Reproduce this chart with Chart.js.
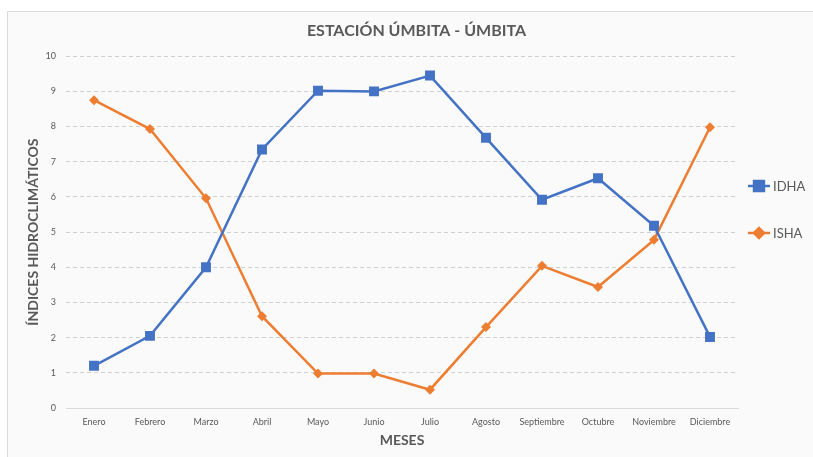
<!DOCTYPE html>
<html>
<head>
<meta charset="utf-8">
<script src="https://cdn.jsdelivr.net/npm/chart.js@4/dist/chart.umd.min.js"></script>
<style>
  html, body { margin: 0; padding: 0; background: #ffffff; }
  #wrap { position: relative; width: 813px; height: 457px; }
</style>
</head>
<body>
<div id="wrap"><canvas id="chart" width="813" height="457"></canvas></div>
<script>
// Monthly hydro-climatic indices for the Úmbita station
const meses = ['Enero', 'Febrero', 'Marzo', 'Abril', 'Mayo', 'Junio', 'Julio',
  'Agosto', 'Septiembre', 'Octubre', 'Noviembre', 'Diciembre'];
const idha = [1.2, 2.05, 4.0, 7.35, 9.02, 9.0, 9.45, 7.68, 5.92, 6.53, 5.18, 2.02];
const isha = [8.75, 7.93, 5.96, 2.61, 0.98, 0.98, 0.52, 2.3, 4.04, 3.44, 4.78, 7.98];
const yTicks = [0, 1, 2, 3, 4, 5, 6, 7, 8, 9, 10];

const FONT = 'Lato, "Open Sans", "Liberation Sans", sans-serif';
const TEXT = '#595959';
const BLUE = '#4472C4';
const ORANGE = '#ED7D31';

// Light panel with a thin frame behind the chart
const framePlugin = {
  id: 'frame',
  beforeDraw(chart) {
    const ctx = chart.ctx;
    ctx.save();
    ctx.fillStyle = '#ffffff';
    ctx.fillRect(0, 0, chart.width, chart.height);
    ctx.fillStyle = '#fafafa';
    ctx.fillRect(7, 11, chart.width, chart.height);
    ctx.strokeStyle = '#d9d9d9';
    ctx.lineWidth = 1;
    ctx.beginPath();
    ctx.moveTo(7.5, chart.height);
    ctx.lineTo(7.5, 11.5);
    ctx.lineTo(chart.width, 11.5);
    ctx.stroke();
    ctx.restore();
  }
};

// Vertical legend on the right: a short line with the series marker, then the name
const sideLegend = {
  id: 'sideLegend',
  afterDraw(chart) {
    const ctx = chart.ctx;
    const rows = [186, 233];
    ctx.save();
    chart.data.datasets.forEach((ds, i) => {
      const y = rows[i];
      ctx.strokeStyle = ds.borderColor;
      ctx.lineWidth = 2.5;
      ctx.beginPath();
      ctx.moveTo(748, y);
      ctx.lineTo(770, y);
      ctx.stroke();
      Chart.helpers.drawPoint(ctx, {
        pointStyle: ds.pointStyle,
        radius: ds.pointRadius,
        borderWidth: 1
      }, 759, y);
      ctx.fillStyle = ds.borderColor;
      ctx.fill();
      ctx.fillStyle = TEXT;
      ctx.font = '13px ' + FONT;
      ctx.textAlign = 'left';
      ctx.textBaseline = 'middle';
      ctx.fillText(ds.label, 773, y + 1);
    });
    ctx.restore();
  }
};

new Chart(document.getElementById('chart'), {
  type: 'line',
  data: {
    labels: meses,
    datasets: [
      {
        label: 'IDHA',
        data: idha,
        borderColor: BLUE,
        backgroundColor: BLUE,
        borderWidth: 2.5,
        pointStyle: 'rect',
        pointRadius: 7,
        pointHoverRadius: 7,
        pointBorderWidth: 0,
        tension: 0
      },
      {
        label: 'ISHA',
        data: isha,
        borderColor: ORANGE,
        backgroundColor: ORANGE,
        borderWidth: 2.5,
        pointStyle: 'rectRot',
        pointRadius: 5,
        pointHoverRadius: 5,
        pointBorderWidth: 0,
        tension: 0
      }
    ]
  },
  options: {
    responsive: false,
    animation: false,
    layout: { padding: { left: 20, right: 0, top: 0, bottom: 0 } },
    plugins: {
      legend: { display: false },
      tooltip: { enabled: false },
      title: {
        display: true,
        text: 'ESTACIÓN ÚMBITA - ÚMBITA',
        color: TEXT,
        font: { family: FONT, size: 16, weight: 'bold' },
        padding: { top: 21, bottom: 16 }
      }
    },
    scales: {
      x: {
        offset: true,
        grid: { display: false, drawTicks: false },
        border: { display: true, color: '#d9d9d9', width: 1 },
        ticks: {
          color: TEXT,
          font: { family: FONT, size: 9 },
          padding: 9,
          maxRotation: 0,
          autoSkip: false
        },
        title: {
          display: true,
          text: 'MESES',
          color: TEXT,
          font: { family: FONT, size: 14, weight: 'bold' },
          padding: { top: 0, bottom: 8 }
        },
        afterFit(scale) { scale.height = 49; }
      },
      y: {
        min: 0,
        max: 10,
        afterBuildTicks(scale) { scale.ticks = yTicks.map(v => ({ value: v })); },
        grid: {
          drawTicks: false,
          lineWidth: 1,
          color: ctx => (ctx.tick && ctx.tick.value === 0) ? 'rgba(0,0,0,0)' : '#d0d0d0'
        },
        border: { display: false, dash: [4, 3] },
        ticks: {
          color: TEXT,
          font: { family: FONT, size: 9 },
          padding: 10
        },
        title: {
          display: true,
          text: 'ÍNDICES HIDROCLIMÁTICOS',
          color: TEXT,
          font: { family: FONT, size: 14, weight: 'bold' },
          padding: { top: 5, bottom: 0 }
        },
        afterFit(scale) { scale.width = 46; }
      },
      // empty band on the right that holds the legend
      side: {
        position: 'right',
        axis: 'y',
        grid: { display: false, drawTicks: false },
        border: { display: false },
        ticks: { display: false },
        afterFit(scale) { scale.width = 75; }
      }
    }
  },
  plugins: [framePlugin, sideLegend]
});
</script>
</body>
</html>
